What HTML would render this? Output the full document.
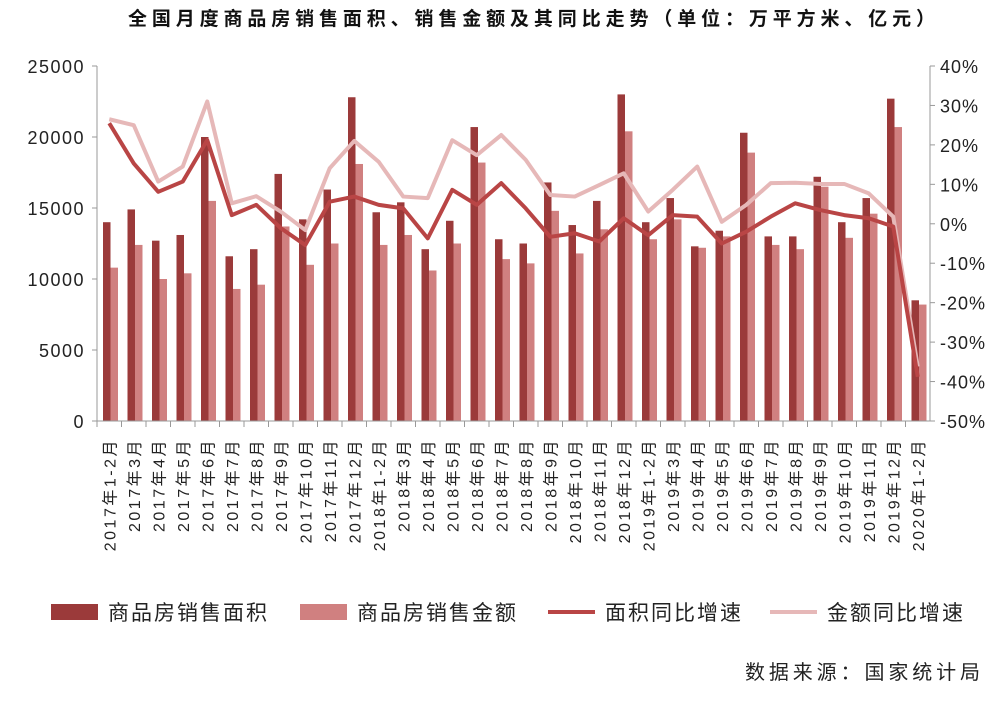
<!DOCTYPE html>
<html><head><meta charset="utf-8"><style>
body{margin:0;background:#fff;}
svg{display:block;font-family:"Liberation Sans","Noto Sans CJK SC",sans-serif;}
</style></head><body>
<svg id="chart" width="1000" height="701" viewBox="0 0 1000 701">
<text x="128" y="25" textLength="807" lengthAdjust="spacing" font-size="19" font-weight="bold" fill="#111">全国月度商品房销售面积、销售金额及其同比走势（单位：万平方米、亿元）</text>
<g id="grid"></g><g id="bars"></g><g id="lines"></g><g id="axes"></g>
<g font-size="21" fill="#222" letter-spacing="2">
<rect x="51" y="604" width="47" height="16" fill="#9b3a3a"/>
<text x="108" y="620">商品房销售面积</text>
<rect x="300" y="604" width="47" height="16" fill="#d08080"/>
<text x="357" y="620">商品房销售金额</text>
<line x1="548" y1="612" x2="595" y2="612" stroke="#b94545" stroke-width="4"/>
<text x="605" y="620">面积同比增速</text>
<line x1="770" y1="612" x2="817" y2="612" stroke="#e6b8b8" stroke-width="4"/>
<text x="827" y="620">金额同比增速</text>
</g>
<text x="745" y="679" textLength="235" lengthAdjust="spacing" font-size="20" fill="#222">数据来源：国家统计局</text>
</svg>
<script>
const categories=["2017年1-2月","2017年3月","2017年4月","2017年5月","2017年6月","2017年7月","2017年8月","2017年9月","2017年10月","2017年11月","2017年12月","2018年1-2月","2018年3月","2018年4月","2018年5月","2018年6月","2018年7月","2018年8月","2018年9月","2018年10月","2018年11月","2018年12月","2019年1-2月","2019年3月","2019年4月","2019年5月","2019年6月","2019年7月","2019年8月","2019年9月","2019年10月","2019年11月","2019年12月","2020年1-2月"];
const areaValues=[14000,14900,12700,13100,20000,11600,12100,17400,14200,16300,22800,14700,15400,12100,14100,20700,12800,12500,16800,13800,15500,23000,14000,15700,12300,13400,20300,13000,13000,17200,14000,15700,22700,8500];
const amountValues=[10800,12400,10000,10400,15500,9300,9600,13700,11000,12500,18100,12400,13100,10600,12500,18200,11400,11100,14800,11800,13500,20400,12800,14200,12200,13000,18900,12400,12100,16500,12900,14600,20700,8200];
const areaYoy=[25.5,15.3,8.1,10.7,21.2,2.2,4.8,-1.1,-5.4,5.6,6.9,4.8,3.9,-3.7,8.6,4.8,10.3,3.9,-3.3,-2.4,-4.5,1.4,-2.9,2.2,1.8,-5.0,-2.0,1.8,5.2,3.5,2.2,1.4,-0.7,-38.8];
const amountYoy=[26.5,25.0,10.7,14.5,31.0,5.2,7.0,3.1,-1.6,14.1,21.0,15.7,6.9,6.5,21.2,17.4,22.5,16.2,7.3,6.9,9.8,12.8,3.1,8.6,14.5,0.5,4.8,10.3,10.4,10.1,10.1,7.7,1.8,-36.2];
const leftTicks=[0,5000,10000,15000,20000,25000];
const rightTicks=[-50,-40,-30,-20,-10,0,10,20,30,40];
const X0=97,X1=930,YT=66,YB=421;
const bw=(X1-X0)/categories.length;
const yL=v=>YB-(v/25000)*(YB-YT);
const yR=v=>YB-((v+50)/90)*(YB-YT);
const NS="http://www.w3.org/2000/svg";
function mk(t,a,p){const e=document.createElementNS(NS,t);for(const k in a)e.setAttribute(k,a[k]);p.appendChild(e);return e;}
const bars=document.getElementById('bars'),lines=document.getElementById('lines'),axes=document.getElementById('axes');
categories.forEach((c,i)=>{
 const x=X0+i*bw;
 let r=mk('rect',{x:x+6,y:yL(areaValues[i]),width:7.5,height:YB-yL(areaValues[i]),fill:'#9b3a3a'},bars);
 
 
 r=mk('rect',{x:x+13.5,y:yL(amountValues[i]),width:7.5,height:YB-yL(amountValues[i]),fill:'#d08080'},bars);
 
 
 const t=mk('text',{x:0,y:0,transform:`translate(${x+bw/2+6},438) rotate(-90)`,'text-anchor':'end','font-size':'16','letter-spacing':'2.5',fill:'#222'},axes);
 t.textContent=c;
 
 
 const tk=mk('line',{x1:x,y1:YB,x2:x,y2:YB+6,stroke:'#999'},axes);
 
 
});
function poly(vals,col,name){
 const p=mk('polyline',{points:vals.map((v,i)=>`${X0+(i+0.5)*bw},${yR(v)}`).join(' '),fill:'none',stroke:col,'stroke-width':4,'stroke-linejoin':'round'},lines);
 
 
}
poly(amountYoy,'#e6b8b8','line-amount-yoy');
poly(areaYoy,'#b94545','line-area-yoy');
let a=mk('line',{x1:X0,y1:YT,x2:X0,y2:YB,stroke:'#999'},axes);


a=mk('line',{x1:X1,y1:YT,x2:X1,y2:YB,stroke:'#999'},axes);


a=mk('line',{x1:X0,y1:YB,x2:X1,y2:YB,stroke:'#999'},axes);


leftTicks.forEach(v=>{
 const t=mk('text',{x:85,y:yL(v)+7,'text-anchor':'end','font-size':'18','letter-spacing':'1.5',fill:'#222'},axes);
 t.textContent=v;
 
 
 mk('line',{x1:X0-5,y1:yL(v),x2:X0,y2:yL(v),stroke:'#999'},axes);
});
rightTicks.forEach(v=>{
 const t=mk('text',{x:940,y:yR(v)+7,'font-size':'18','letter-spacing':'1',fill:'#222'},axes);
 t.textContent=v+'%';
 
 
 mk('line',{x1:X1,y1:yR(v),x2:X1+5,y2:yR(v),stroke:'#999'},axes);
});
</script>
</body></html>
